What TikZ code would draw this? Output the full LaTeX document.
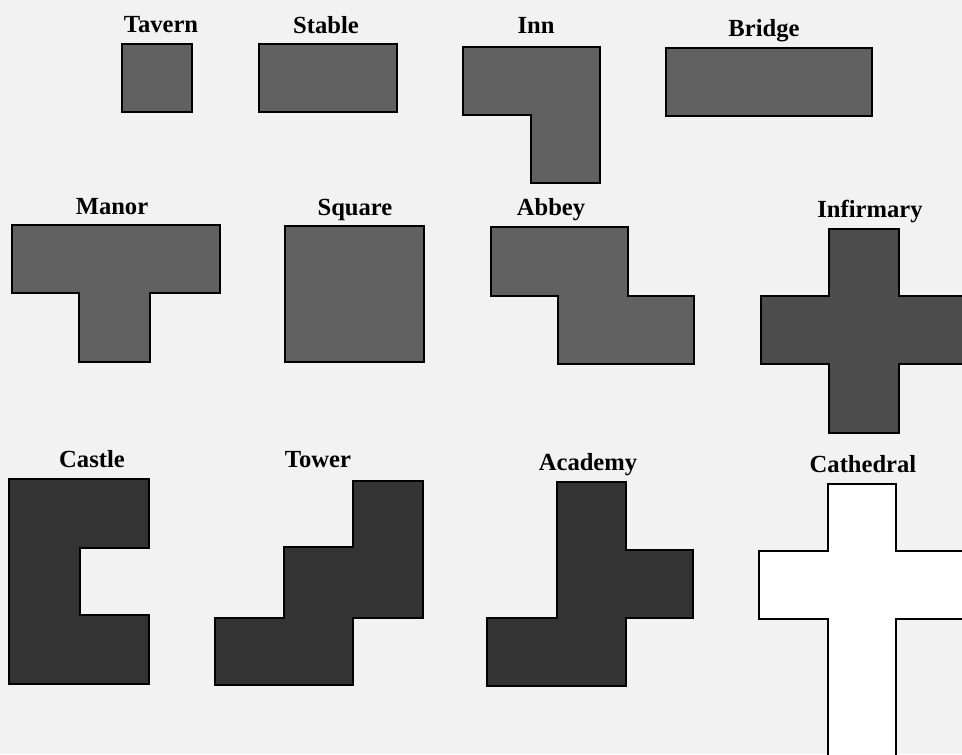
\documentclass[tikz,border=0pt]{standalone}
\usepackage{fontspec}
\setmainfont{Liberation Serif}
\usetikzlibrary{positioning}

\begin{document}
\begin{tikzpicture}[
  x=0.02cm, y=-0.02cm,
  font=\bfseries\fontsize{14}{16}\selectfont,
  lbl/.style={anchor=base, inner sep=0pt},
  room/.style={draw=black, line width=1pt, fill=black!62},
  keep/.style={room, fill=black!80},
  ward/.style={room, fill=black!70},
  plain/.style={room, fill=white}
]
\fill[black!5] (0,0) rectangle (962,754);
\useasboundingbox (0,0) rectangle (962,754);
\clip (0,0) rectangle (962,754);

% first row
\node[lbl] (tavern) at (161,32) {Tavern};
\node[lbl] (stable) at (326,33) {Stable};
\node[lbl] (inn)    at (536,33) {Inn};
\node[lbl] (bridge) at (764,36) {Bridge};

\draw[room] (122,44) rectangle (192,112);
\draw[room] (259,44) rectangle (397,112);
\draw[room] (463,47) -- (600,47) -- (600,183) -- (531,183) -- (531,115) -- (463,115) -- cycle;
\draw[room] (666,48) rectangle (872,116);

% second row
\node[lbl] (manor)     at (112,214) {Manor};
\node[lbl] (square)    at (355,215) {Square};
\node[lbl] (abbey)     at (551,215) {Abbey};
\node[lbl] (infirmary) at (870,217) {Infirmary};

\draw[room] (12,225) -- (220,225) -- (220,293) -- (150,293) -- (150,362) -- (79,362) -- (79,293) -- (12,293) -- cycle;
\draw[room] (285,226) rectangle (424,362);
\draw[room] (491,227) -- (628,227) -- (628,296) -- (694,296) -- (694,364) -- (558,364) -- (558,296) -- (491,296) -- cycle;
\draw[ward] (829,229) -- (899,229) -- (899,296) -- (967,296) -- (967,364) -- (899,364) -- (899,433)
  -- (829,433) -- (829,364) -- (761,364) -- (761,296) -- (829,296) -- cycle;

% third row
\node[lbl] (castle)    at (92,467)  {Castle};
\node[lbl] (tower)     at (318,467) {Tower};
\node[lbl] (academy)   at (588,470) {Academy};
\node[lbl] (cathedral) at (863,472) {Cathedral};

\draw[keep] (9,479) -- (149,479) -- (149,548) -- (80,548) -- (80,615) -- (149,615) -- (149,684) -- (9,684) -- cycle;
\draw[keep] (353,481) -- (423,481) -- (423,618) -- (353,618) -- (353,685) -- (215,685) -- (215,618)
  -- (284,618) -- (284,547) -- (353,547) -- cycle;
\draw[keep] (557,482) -- (626,482) -- (626,550) -- (693,550) -- (693,618) -- (626,618) -- (626,686)
  -- (487,686) -- (487,618) -- (557,618) -- cycle;
\draw[plain] (828,484) -- (896,484) -- (896,551) -- (964,551) -- (964,619) -- (896,619) -- (896,756)
  -- (828,756) -- (828,619) -- (759,619) -- (759,551) -- (828,551) -- cycle;
\end{tikzpicture}
\end{document}
